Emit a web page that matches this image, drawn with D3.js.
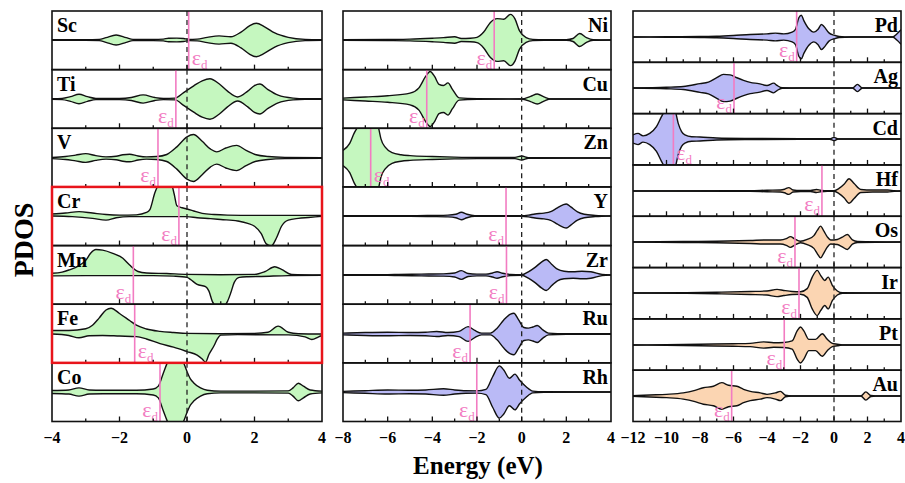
<!DOCTYPE html>
<html>
<head>
<meta charset="utf-8">
<script src="https://cdn.jsdelivr.net/npm/d3@7"></script>
<style>
  body { margin: 0; background: #fff; }
  svg { display: block; }
  text { font-family: "Liberation Serif", "Times New Roman", "DejaVu Serif", serif; }
</style>
</head>
<body>
<svg id="chart" width="905" height="483"></svg>
<script>
// element names per column
const col1Names = ["Sc", "Ti", "V", "Cr", "Mn", "Fe", "Co"];
const col2Names = ["Ni", "Cu", "Zn", "Y", "Zr", "Ru", "Rh"];
const col3Names = ["Pd", "Ag", "Cd", "Hf", "Os", "Ir", "Pt", "Au"];

// energy ticks per column
const col1Ticks = [-4, -2, 0, 2, 4];
const col2Ticks = [-8, -6, -4, -2, 0, 2, 4];
const col3Ticks = [-12, -10, -8, -6, -4, -2, 0, 2, 4];

// d-band centre (eV)
const dCenter = {
    Sc: 0.05, Ti: -0.33, V: -0.86, Cr: -0.24, Mn: -1.59, Fe: -1.55, Co: -0.8,
    Ni: -1.23, Cu: -4.25, Zn: -6.76, Y: -0.7, Zr: -0.68, Ru: -2.31, Rh: -2.01,
    Pd: -2.23, Ag: -5.97, Cd: -9.59, Hf: -0.72, Os: -2.33, Ir: -2.09, Pt: -2.97, Au: -6.11
};
// εd label drawn right of the line for these
const dLabelRight = ["Sc", "Fe", "Zn", "Cd"];

const greenSet = ["Sc", "Ti", "V", "Cr", "Mn", "Fe", "Co", "Ni", "Cu", "Zn"];
const blueSet = ["Y", "Zr", "Ru", "Rh", "Pd", "Ag", "Cd"];
const peachSet = ["Hf", "Os", "Ir", "Pt", "Au"];

// PDOS, spin up [E, value]; value 1 = half panel height
const pdosUp = {
    Sc: [[-4,0.01],[-3,0.01],[-2.6,0.02],[-2.4,0.08],[-2.1,0.17],[-1.8,0.08],[-1.6,0.02],[-1,0.02],[-0.7,0.03],[-0.55,0.06],[-0.3,0.065],[-0.1,0.05],[0.05,0.02],[0.3,0.03],[0.6,0.09],[0.95,0.14],[1.3,0.11],[1.6,0.27],[1.85,0.48],[2.05,0.57],[2.3,0.45],[2.6,0.24],[3.0,0.09],[3.5,0.02],[4,0.01]],
    Ti: [[-4,0.01],[-3.7,0.02],[-3.45,0.08],[-3.2,0.16],[-2.95,0.08],[-2.7,0.02],[-2,0.02],[-1.65,0.05],[-1.3,0.14],[-0.95,0.05],[-0.7,0.02],[-0.35,0.03],[-0.1,0.22],[0.2,0.45],[0.45,0.62],[0.68,0.69],[0.95,0.52],[1.2,0.27],[1.5,0.07],[1.8,0.27],[2.0,0.46],[2.16,0.51],[2.4,0.32],[2.7,0.13],[3.15,0.03],[3.5,0.01],[4,0.01]],
    V: [[-4,0.02],[-3.6,0.05],[-3.3,0.1],[-3.0,0.15],[-2.7,0.08],[-2.4,0.04],[-2.1,0.06],[-1.9,0.11],[-1.7,0.13],[-1.45,0.07],[-1.2,0.04],[-0.9,0.05],[-0.6,0.12],[-0.3,0.38],[0,0.72],[0.19,0.8],[0.45,0.57],[0.7,0.3],[0.88,0.21],[1.15,0.34],[1.47,0.43],[1.75,0.26],[2.05,0.11],[2.4,0.05],[2.9,0.02],[4,0.01]],
    Cr: [[-4,0.07],[-3.6,0.1],[-3.2,0.15],[-2.8,0.1],[-2.4,0.05],[-2,0.03],[-1.5,0.04],[-1.2,0.12],[-1.1,0.22],[-0.95,0.8],[-0.85,1.05],[-0.6,1.2],[-0.45,1.05],[-0.38,0.75],[-0.3,0.35],[-0.15,0.28],[0,0.24],[0.2,0.17],[0.45,0.09],[0.8,0.05],[1.2,0.03],[2,0.02],[3,0.02],[4,0.02]],
    Mn: [[-4,0.06],[-3.7,0.1],[-3.5,0.17],[-3.2,0.32],[-3,0.5],[-2.85,0.75],[-2.7,0.87],[-2.5,0.85],[-2.2,0.74],[-1.9,0.57],[-1.7,0.34],[-1.45,0.12],[-1.2,0.07],[-0.6,0.05],[0,0.02],[1,0.01],[2,0.02],[2.3,0.11],[2.6,0.28],[2.8,0.19],[3.1,0.02],[4,0.0]],
    Fe: [[-4,0.12],[-3.5,0.12],[-3,0.18],[-2.8,0.3],[-2.6,0.55],[-2.4,0.82],[-2.25,0.88],[-2.0,0.7],[-1.7,0.46],[-1.5,0.3],[-1.2,0.17],[-0.8,0.09],[-0.4,0.05],[0,0.02],[1,0.01],[2,0.02],[2.4,0.06],[2.7,0.27],[3.0,0.06],[3.3,0.01],[4,0.0]],
    Co: [[-4,0.05],[-3.5,0.07],[-3.2,0.14],[-2.9,0.07],[-2.5,0.06],[-1.5,0.06],[-1,0.1],[-0.85,0.2],[-0.7,0.65],[-0.6,0.95],[-0.5,1.2],[-0.3,1.45],[-0.1,1.0],[0.0,0.7],[0.1,0.45],[0.2,0.31],[0.4,0.14],[0.6,0.06],[1,0.03],[2,0.03],[3,0.04],[3.15,0.15],[3.3,0.3],[3.45,0.2],[3.65,0.07],[4,0.03]],
    Ni: [[-8,0.01],[-6,0.02],[-5,0.03],[-4,0.06],[-3.5,0.08],[-3.0,0.11],[-2.7,0.05],[-2.3,0.06],[-2,0.09],[-1.7,0.27],[-1.4,0.6],[-1.1,0.73],[-0.8,0.71],[-0.5,0.875],[-0.3,0.72],[-0.1,0.32],[0.2,0.08],[0.5,0.02],[1,0.01],[2,0.01],[2.3,0.05],[2.6,0.22],[2.9,0.08],[3.2,0.01],[4,0.0]],
    Cu: [[-8,0.03],[-7,0.07],[-6,0.11],[-5,0.2],[-4.6,0.38],[-4.3,0.77],[-4.1,0.94],[-3.9,0.77],[-3.7,0.5],[-3.5,0.46],[-3.3,0.55],[-3.1,0.33],[-2.8,0.04],[-2,0.01],[0,0.0],[0.4,0.09],[0.7,0.17],[1.0,0.07],[1.3,0.0],[4,0.0]],
    Zn: [[-8,0.26],[-7.7,0.5],[-7.5,0.85],[-7.3,1.1],[-7.0,1.4],[-6.6,1.4],[-6.4,1.0],[-6.3,0.65],[-6.1,0.36],[-5.8,0.18],[-5.4,0.11],[-5,0.08],[-4,0.05],[-3,0.03],[-2,0.02],[-0.3,0.02],[0,0.07],[0.3,0.01],[4,0.0]],
    Y: [[-8,0.01],[-5,0.01],[-4,0.02],[-3.3,0.03],[-2.95,0.06],[-2.7,0.13],[-2.45,0.06],[-2.1,0.01],[0,0.01],[0.3,0.03],[0.6,0.07],[1.0,0.1],[1.3,0.15],[1.6,0.28],[1.85,0.38],[2.0,0.41],[2.2,0.31],[2.5,0.14],[2.8,0.06],[3.3,0.02],[4,0.0]],
    Zr: [[-8,0.01],[-6,0.01],[-5.5,0.02],[-4.5,0.03],[-3.5,0.04],[-3.0,0.07],[-2.7,0.15],[-2.4,0.05],[-2,0.03],[-1.6,0.03],[-1.3,0.07],[-1.1,0.11],[-0.85,0.06],[-0.5,0.02],[0,0.01],[0.3,0.11],[0.6,0.26],[0.9,0.45],[1.1,0.53],[1.35,0.36],[1.6,0.2],[1.9,0.13],[2.3,0.11],[2.7,0.13],[3.1,0.11],[3.6,0.02],[4,0.0]],
    Ru: [[-8,0.03],[-7,0.05],[-6,0.06],[-5,0.05],[-4.3,0.06],[-3.8,0.085],[-3.3,0.05],[-2.8,0.09],[-2.4,0.25],[-2.1,0.12],[-1.8,0.03],[-1.4,0.03],[-1.1,0.2],[-0.8,0.48],[-0.5,0.68],[-0.35,0.71],[-0.15,0.5],[0.1,0.22],[0.3,0.2],[0.5,0.24],[0.7,0.29],[0.95,0.14],[1.2,0.03],[2,0.01],[4,0.01]],
    Rh: [[-8,0.02],[-7,0.045],[-6,0.07],[-5,0.06],[-4.3,0.07],[-3.5,0.11],[-3,0.07],[-2.5,0.045],[-2,0.04],[-1.6,0.09],[-1.3,0.52],[-1.0,0.89],[-0.8,0.75],[-0.55,0.47],[-0.3,0.61],[-0.1,0.41],[0.2,0.18],[0.5,0.03],[1,0.01],[4,0.0]],
    Pd: [[-12,0.0],[-10,0.01],[-8,0.02],[-7,0.03],[-6,0.06],[-5,0.1],[-4,0.12],[-3.5,0.15],[-3,0.12],[-2.5,0.19],[-2.3,0.3],[-2.1,0.75],[-1.95,0.85],[-1.8,0.64],[-1.5,0.32],[-1.2,0.19],[-0.95,0.3],[-0.75,0.49],[-0.6,0.41],[-0.3,0.16],[0,0.07],[0.3,0.02],[1,0.0],[3.5,0.0],[3.75,0.12],[4,0.28]],
    Ag: [[-12,0.0],[-10,0.03],[-9,0.06],[-8,0.17],[-7.5,0.23],[-7,0.4],[-6.6,0.53],[-6.2,0.51],[-5.8,0.4],[-5.4,0.3],[-5,0.22],[-4.5,0.17],[-4,0.1],[-3.6,0.19],[-3.4,0.1],[-3.1,0.01],[-2,0.0],[1.1,0.0],[1.4,0.14],[1.7,0.0],[4,0.0]],
    Cd: [[-12,0.16],[-11.7,0.22],[-11.4,0.12],[-11,0.22],[-10.6,0.48],[-10.3,0.87],[-10.0,1.2],[-9.75,1.35],[-9.5,1.15],[-9.3,0.61],[-9.1,0.29],[-8.9,0.16],[-8.5,0.09],[-8,0.08],[-7,0.04],[-5,0.02],[-2,0.01],[-0.25,0.01],[0,0.065],[0.25,0.0],[4,0.0]],
    Hf: [[-12,0.0],[-6,0.01],[-5,0.01],[-4,0.03],[-3.2,0.04],[-2.95,0.07],[-2.7,0.13],[-2.45,0.04],[-2,0.02],[-1.4,0.02],[-1.05,0.06],[-0.8,0.03],[-0.4,0.01],[0,0.01],[0.3,0.1],[0.6,0.26],[0.9,0.48],[1.2,0.29],[1.6,0.06],[2.3,0.04],[3.2,0.04],[3.6,0.01],[4,0.0]],
    Os: [[-12,0.0],[-9,0.02],[-7,0.03],[-5,0.06],[-4,0.08],[-3.2,0.08],[-2.85,0.13],[-2.6,0.21],[-2.35,0.12],[-2.0,0.03],[-1.6,0.1],[-1.2,0.25],[-1.0,0.45],[-0.8,0.62],[-0.6,0.42],[-0.4,0.2],[-0.2,0.08],[0.2,0.1],[0.5,0.19],[0.8,0.29],[1.1,0.08],[1.4,0.02],[4,0.0]],
    Ir: [[-12,0.0],[-9,0.01],[-7,0.03],[-5,0.06],[-4,0.08],[-3.4,0.14],[-3,0.1],[-2.5,0.06],[-2,0.05],[-1.6,0.17],[-1.3,0.62],[-1.0,0.88],[-0.8,0.69],[-0.55,0.49],[-0.35,0.62],[-0.1,0.3],[0.2,0.08],[0.5,0.01],[4,0.0]],
    Pt: [[-12,0.0],[-10,0.01],[-8,0.03],[-6,0.05],[-5,0.065],[-4.2,0.12],[-3.6,0.09],[-3,0.1],[-2.5,0.16],[-2.2,0.55],[-2.0,0.7],[-1.8,0.55],[-1.5,0.22],[-1.1,0.22],[-0.7,0.44],[-0.4,0.22],[-0.1,0.065],[0.2,0.03],[0.5,0.0],[4,0.0]],
    Au: [[-12,0.01],[-11,0.04],[-10,0.065],[-9,0.12],[-8.3,0.22],[-7.8,0.32],[-7.2,0.38],[-6.7,0.52],[-6.3,0.42],[-5.8,0.38],[-5.4,0.26],[-5,0.18],[-4.4,0.12],[-4,0.065],[-3.5,0.12],[-3.2,0.18],[-2.9,0.03],[-2.5,0.0],[1.6,0.0],[1.9,0.16],[2.2,0.02],[2.5,0.0],[4,0.0]]
};

// spin down where it differs from spin up
const pdosDown = {
    Cr: [[-4,0.0],[-3.4,0.02],[-2.8,0.08],[-2.4,0.14],[-2.1,0.06],[-1.7,0.02],[-1,0.02],[-0.5,0.02],[0,0.02],[0.3,0.06],[0.7,0.09],[1,0.12],[1.5,0.17],[1.8,0.25],[2.0,0.35],[2.2,0.6],[2.35,0.95],[2.5,1.02],[2.65,0.75],[2.8,0.35],[3.0,0.14],[3.3,0.08],[3.6,0.05],[4,0.01]],
    Mn: [[-4,0.03],[-3,0.02],[-2,0.02],[-1,0.02],[-0.4,0.04],[0,0.08],[0.1,0.15],[0.3,0.32],[0.55,0.4],[0.65,0.55],[0.75,0.9],[0.85,1.05],[1.05,1.1],[1.2,0.9],[1.3,0.6],[1.4,0.25],[1.55,0.08],[1.8,0.06],[2.2,0.05],[3,0.02],[4,0.01]],
    Fe: [[-4,0.0],[-3.5,0.05],[-3.2,0.13],[-2.9,0.06],[-2.5,0.05],[-2,0.07],[-1.5,0.09],[-1.2,0.17],[-0.8,0.33],[-0.4,0.45],[0,0.6],[0.3,0.72],[0.45,0.85],[0.55,0.96],[0.65,0.7],[0.8,0.4],[0.9,0.17],[1.0,0.04],[1.5,0.02],[3,0.03],[3.5,0.1],[3.7,0.19],[3.9,0.1],[4,0.05]]
};

const fillColor = name => greenSet.includes(name) ? "#c5f7bf" : blueSet.includes(name) ? "#babaf6" : "#fbd5b2";
const pink = "#f27cc2";

const svg = d3.select("#chart");
const plotTop = 11, plotBottom = 421.5;

const columns = [
    { names: col1Names, ticks: col1Ticks, x0: 52, x1: 322, domain: [-4, 4], labelLeft: true },
    { names: col2Names, ticks: col2Ticks, x0: 343, x1: 611, domain: [-8, 4], labelLeft: false },
    { names: col3Names, ticks: col3Ticks, x0: 633, x1: 901, domain: [-12, 4], labelLeft: false }
];

let clipCnt = 0;
columns.forEach(col => {
    const x = d3.scaleLinear().domain(col.domain).range([col.x0, col.x1]);
    const ph = (plotBottom - plotTop) / col.names.length;

    col.names.forEach((name, i) => {
        const pt = plotTop + i * ph, pb = pt + ph;
        const c = Math.round((pt + pb) / 2);
        const y = d3.scaleLinear().domain([-1, 1]).range([c + ph / 2, c - ph / 2]);
        const g = svg.append("g");
        const clipId = "clip" + clipCnt++;
        g.append("clipPath").attr("id", clipId)
            .append("rect").attr("x", col.x0).attr("y", pt).attr("width", col.x1 - col.x0).attr("height", ph);
        const body = g.append("g").attr("clip-path", `url(#${clipId})`);

        const up = pdosUp[name];
        const dn = pdosDown[name] || up;

        const areaUp = d3.area().curve(d3.curveMonotoneX)
            .x(d => x(d[0])).y0(y(0)).y1(d => y(d[1]));
        const areaDn = d3.area().curve(d3.curveMonotoneX)
            .x(d => x(d[0])).y0(y(0)).y1(d => y(-d[1]));
        const lineUp = d3.line().curve(d3.curveMonotoneX).x(d => x(d[0])).y(d => y(d[1]));
        const lineDn = d3.line().curve(d3.curveMonotoneX).x(d => x(d[0])).y(d => y(-d[1]));

        // element label (curves are drawn over it)
        g.append("text")
            .attr("x", col.labelLeft ? col.x0 + 5 : col.x1 - 3)
            .attr("y", pt + 21)
            .attr("text-anchor", col.labelLeft ? "start" : "end")
            .style("font-weight", "bold").style("font-size", "20px")
            .text(name);

        body.append("path").attr("d", areaDn(dn)).attr("fill", fillColor(name));
        body.append("path").attr("d", areaUp(up)).attr("fill", fillColor(name));
        body.append("path").attr("d", lineUp(up)).attr("fill", "none").attr("stroke", "#111").attr("stroke-width", 1.4);
        body.append("path").attr("d", lineDn(dn)).attr("fill", "none").attr("stroke", "#111").attr("stroke-width", 1.4);

        // Fermi level
        body.append("line")
            .attr("x1", x(0)).attr("x2", x(0)).attr("y1", pt).attr("y2", pb)
            .attr("stroke", "#222").attr("stroke-width", 1.3).attr("stroke-dasharray", "5,4");

        // d-band centre
        const xd = x(dCenter[name]);
        body.append("line")
            .attr("x1", xd).attr("x2", xd).attr("y1", pt).attr("y2", pb)
            .attr("stroke", pink).attr("stroke-width", 1.6);
        const right = dLabelRight.includes(name);
        const lab = g.append("text")
            .attr("x", right ? xd + 3 : xd - 2)
            .attr("y", pb - 5)
            .attr("text-anchor", right ? "start" : "end")
            .attr("fill", pink);
        lab.append("tspan").text("ε").style("font-size", "22px");
        lab.append("tspan").text("d").attr("dy", 4).style("font-size", "13px");

        // ticks
        d3.range(col.domain[0] + 1, col.domain[1]).forEach(e => {
            const len = e % 2 === 0 ? 5 : 3;
            g.append("line").attr("x1", x(e)).attr("x2", x(e))
                .attr("y1", pb).attr("y2", pb - len)
                .attr("stroke", "#111").attr("stroke-width", 1.3);
        });

        // frame
        g.append("rect").attr("x", col.x0).attr("y", pt).attr("width", col.x1 - col.x0).attr("height", ph)
            .attr("fill", "none").attr("stroke", "#111").attr("stroke-width", 1.6);
    });

    // tick labels
    svg.append("g").selectAll("text").data(col.ticks).join("text")
        .attr("x", d => x(d)).attr("y", 443)
        .attr("text-anchor", "middle")
        .style("font-weight", "bold").style("font-size", "16px")
        .text(d => d < 0 ? "\u2212" + Math.abs(d) : d);
});

// highlight box around the magnetic elements
{
    const ph = (plotBottom - plotTop) / col1Names.length;
    const i0 = col1Names.indexOf("Cr"), i1 = col1Names.indexOf("Fe");
    svg.append("rect")
        .attr("x", columns[0].x0).attr("y", plotTop + i0 * ph)
        .attr("width", columns[0].x1 - columns[0].x0).attr("height", (i1 - i0 + 1) * ph)
        .attr("fill", "none").attr("stroke", "#e8141b").attr("stroke-width", 2.5);
}

svg.append("text")
    .attr("x", 478).attr("y", 474)
    .attr("text-anchor", "middle")
    .style("font-weight", "bold").style("font-size", "25px")
    .text("Energy (eV)");

svg.append("text")
    .attr("transform", "translate(33,240) rotate(-90)")
    .attr("text-anchor", "middle")
    .style("font-weight", "bold").style("font-size", "28px")
    .text("PDOS");
</script>
</body>
</html>
